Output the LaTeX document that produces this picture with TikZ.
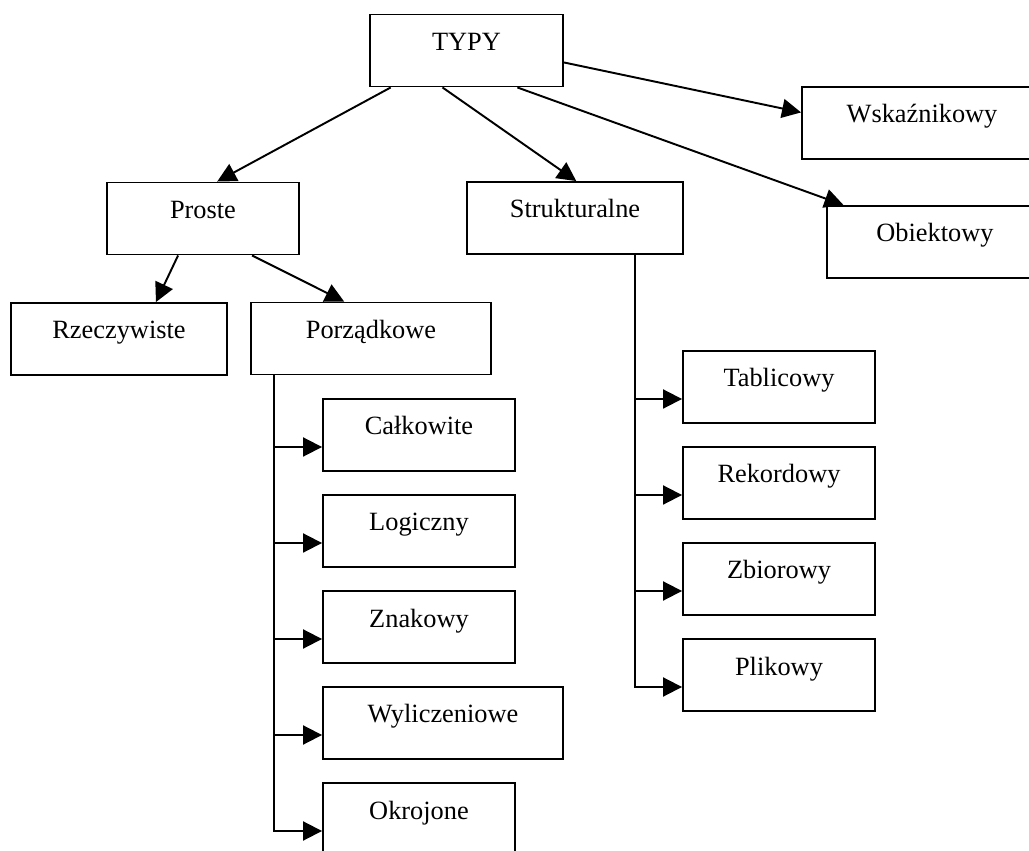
\documentclass[tikz,border=0pt]{standalone}
\usepackage{fontspec}
\setmainfont{Liberation Serif}
\usetikzlibrary{arrows.meta}

\begin{document}
\begin{tikzpicture}[x=0.02cm,y=-0.02cm]
        \clip (0,0) rectangle (1029,851);
        \begin{scope}[every node/.style={rectangle,draw,line width=1.1pt,minimum width=3.84cm,minimum height=1.44cm,
                text height=0.35cm,text depth=0.35cm,font=\fontsize{15}{18}\selectfont}]
            \node (typy) at (466.5,50.5) [minimum width=3.86cm] {TYPY};
            \node (wsk) at (922,123) [minimum width=4.8cm] {Wskaźnikowy};
            \node (obj) at (935,242) [minimum width=4.32cm] {Obiektowy};
            \node (proste) at (203,218.5) {Proste};
            \node (stru) at (575,218) [minimum width=4.32cm] {Strukturalne};
            \node (rzecz) at (119,339) [minimum width=4.32cm] {Rzeczywiste};
            \node (porz) at (371,338.5) [minimum width=4.8cm] {Porządkowe};
            \node (calk) at (419,435) {Całkowite};
            \node (logi) at (419,531) {Logiczny};
            \node (znak) at (419,627) {Znakowy};
            \node (wyli) at (443,723) [minimum width=4.8cm] {Wyliczeniowe};
            \node (okro) at (419,819) {Okrojone};
            \node (tabl) at (779,387) {Tablicowy};
            \node (rekord) at (779,483) {Rekordowy};
            \node (zbior) at (779,579) {Zbiorowy};
            \node (plik) at (779,675) {Plikowy};
        \end{scope}
        \coordinate (pspine) at ([xshift=0.48cm]porz.south west);
        \coordinate (sspine) at ([xshift=1.2cm]stru.south);
        \begin{scope}[>={Triangle[length=0.38cm,width=0.38cm]},line width=1.1pt,
            every edge/.style={draw=black,line width=1.1pt}]
                    \path[->] (typy.206) edge (proste.69);
                    \path[->] (typy.237) edge (stru.88);
                    \path[->] (typy.324) edge (obj.158);
                    \path[->] (typy.353) edge (wsk.175);
                    \path[->] (proste.236) edge (rzecz.45);
                    \path[->] (proste.323) edge (porz.126);
                    \foreach \c in {calk,logi,znak,wyli,okro}
                        \draw[->] (pspine) |- ([yshift=-0.24cm]\c.west);
                    \foreach \c in {tabl,rekord,zbior,plik}
                        \draw[->] (sspine) |- ([yshift=-0.24cm]\c.west);
        \end{scope}
    \end{tikzpicture}
\end{document}
